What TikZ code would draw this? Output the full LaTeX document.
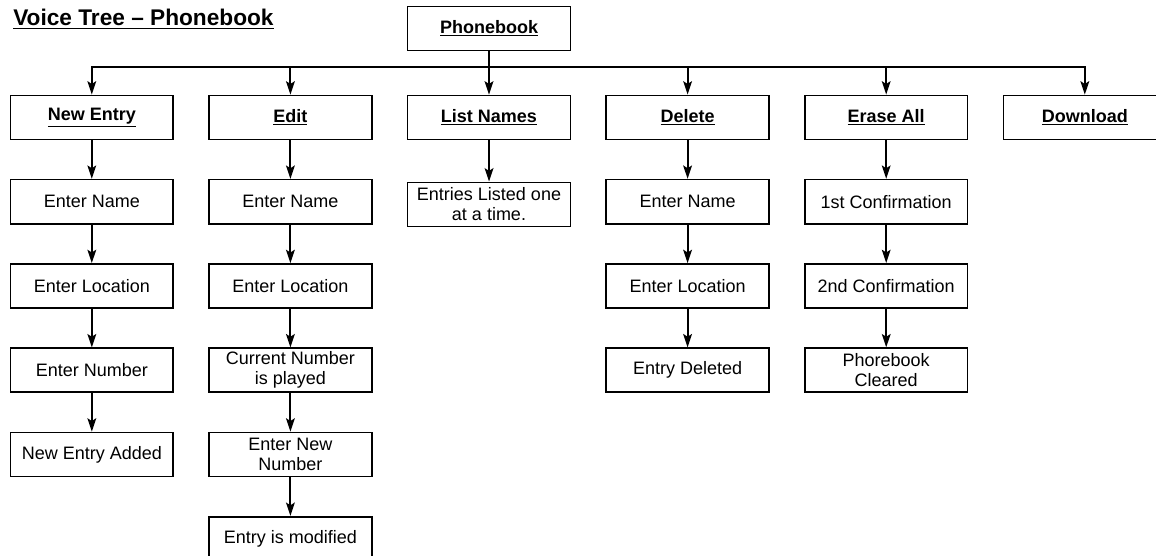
\documentclass[tikz,border=0pt]{standalone}
\usepackage{fontspec}
\setmainfont{Liberation Sans}
\usepackage{tikz}
\usetikzlibrary{arrows.meta, positioning}

\begin{document}
\begin{tikzpicture}[
    x=0.75pt, y=-0.75pt,
    node distance=29pt and 25.75pt,
    every node/.style={align=center},
    menu/.style={rectangle, draw=black, line width=1.2pt, minimum width=122pt, minimum height=33pt, inner sep=2pt, font=\fontsize{13.5}{15}\selectfont\bfseries},
    stepbox/.style={rectangle, draw=black, line width=1.2pt, minimum width=122pt, minimum height=33pt, inner sep=2pt, font=\fontsize{13.5}{15}\selectfont},
    arrow/.style={line width=1.6pt, -{Stealth[length=10pt, width=6.5pt, inset=2pt]}}
]
\useasboundingbox (0,0) rectangle (1156,556);

% Title
\node (title) [anchor=north west, inner sep=0pt, font=\fontsize{17}{19}\selectfont\bfseries] at (13,9) {\underline{Voice Tree -- Phonebook}};

% Top
\node (phonebook) [menu] at (489,28.5) {\underline{Phonebook}};
\coordinate [below=12pt of phonebook] (bus);

% Menu row
\node (listnames) [menu, below=32.5pt of phonebook] {\underline{List Names}};
\node (edit) [menu, left=of listnames] {\underline{Edit}};
\node (newentry) [menu, left=of edit] {\underline{New Entry}};
\node (delete) [menu, right=of listnames] {\underline{Delete}};
\node (eraseall) [menu, right=of delete] {\underline{Erase All}};
\node (download) [menu, right=of eraseall] {\underline{Download}};

% New Entry
\node (ne1) [stepbox, below=of newentry] {Enter Name};
\node (ne2) [stepbox, below=of ne1] {Enter Location};
\node (ne3) [stepbox, below=of ne2] {Enter Number};
\node (ne4) [stepbox, below=of ne3] {New Entry Added};

% Edit
\node (ed1) [stepbox, below=of edit] {Enter Name};
\node (ed2) [stepbox, below=of ed1] {Enter Location};
\node (ed3) [stepbox, below=of ed2] {Current Number\\is played};
\node (ed4) [stepbox, below=of ed3] {Enter New\\Number};
\node (ed5) [stepbox, below=of ed4] {Entry is modified};

% List Names
\node (ln1) [stepbox, below=31pt of listnames] {Entries Listed one\\at a time.};

% Delete
\node (de1) [stepbox, below=of delete] {Enter Name};
\node (de2) [stepbox, below=of de1] {Enter Location};
\node (de3) [stepbox, below=of de2] {Entry Deleted};

% Erase All
\node (ea1) [stepbox, below=of eraseall] {1st Confirmation};
\node (ea2) [stepbox, below=of ea1] {2nd Confirmation};
\node (ea3) [stepbox, below=of ea2] {Phorebook\\Cleared};

% Arrows
\draw [arrow] (phonebook) -- (listnames);
\foreach \m in {newentry, edit, delete, eraseall, download}
    \draw [arrow] (bus) -| (\m.north);

\draw [arrow] (newentry) -- (ne1);
\draw [arrow] (ne1) -- (ne2);
\draw [arrow] (ne2) -- (ne3);
\draw [arrow] (ne3) -- (ne4);

\draw [arrow] (edit) -- (ed1);
\draw [arrow] (ed1) -- (ed2);
\draw [arrow] (ed2) -- (ed3);
\draw [arrow] (ed3) -- (ed4);
\draw [arrow] (ed4) -- (ed5);

\draw [arrow] (listnames) -- (ln1);

\draw [arrow] (delete) -- (de1);
\draw [arrow] (de1) -- (de2);
\draw [arrow] (de2) -- (de3);

\draw [arrow] (eraseall) -- (ea1);
\draw [arrow] (ea1) -- (ea2);
\draw [arrow] (ea2) -- (ea3);

\end{tikzpicture}
\end{document}
